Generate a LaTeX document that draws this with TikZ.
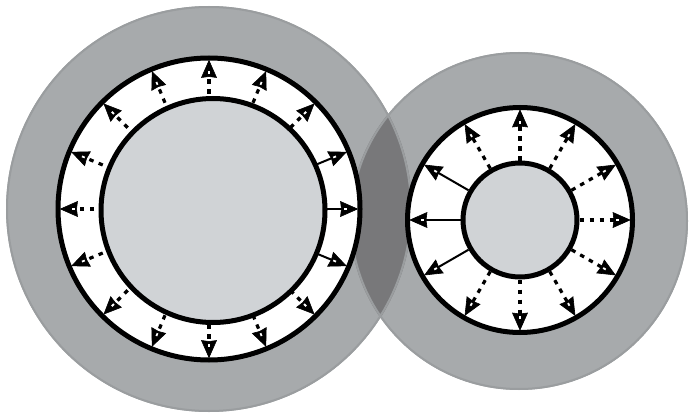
\documentclass[tikz,border=0pt]{standalone}
\usetikzlibrary{calc}
\definecolor{ringgray}{HTML}{A7AAAC}
\definecolor{ringedge}{HTML}{9A9D9F}
\definecolor{lensgray}{HTML}{78787A}
\definecolor{corefill}{HTML}{D0D3D6}
\tikzset{
  dotline/.style={line width=3.2pt, dash pattern=on 4.5pt off 5.5pt, black},
  solidline/.style={line width=2pt, black},
  headfill/.style={fill=black, draw=black, line width=0.6pt, line join=miter},
  notch/.style={fill=white},
  ringline/.style={line width=5pt, draw=black},
}
% arrow from radius #1 to radius #2 in current rotated scope, style #3
\newcommand{\radarrow}[3]{%
  \draw[#3] (#1,0) -- ({#2-15},0);
  \filldraw[headfill] ({#2-0.5},0) -- ({#2-17.5},7.5) -- ({#2-16.5},0) -- ({#2-17.5},-7.5) -- cycle;
  \fill[notch] ({#2-14.5},-0.9) rectangle ({#2-11.5},0.9);
}
\begin{document}
\begin{tikzpicture}[x=1pt,y=1pt]
\useasboundingbox (0,0) rectangle (691,416);
\coordinate (gL) at (209,207);
\coordinate (gR) at (519,195);
\coordinate (cL) at (209,207);
\coordinate (cLin) at (213,205.5);
\coordinate (cR) at (520,196);
% gray discs
\fill[ringgray] (gL) circle (203);
\fill[ringgray] (gR) circle (169);
\begin{scope}
  \clip (gL) circle (203);
  \fill[lensgray] (gR) circle (169);
\end{scope}
\draw[ringedge, line width=2pt] (gL) circle (202) (gR) circle (168);
% left ring
\filldraw[fill=white, ringline] (cL) circle (151);
\foreach \a in {45,67.5,...,315} {
  \begin{scope}[shift={(cL)}, rotate=\a]
    \radarrow{95}{149}{dotline}
  \end{scope}
}
\foreach \a in {-22.5,0,22.5} {
  \begin{scope}[shift={(cL)}, rotate=\a]
    \radarrow{95}{149}{solidline}
  \end{scope}
}
\filldraw[fill=corefill, ringline] (cLin) circle (112);
% right ring
\filldraw[fill=white, ringline] (cR) circle (112.5);
\foreach \a in {0,30,60,90,120,240,270,300,330} {
  \begin{scope}[shift={(cR)}, rotate=\a]
    \radarrow{59.5}{110.5}{dotline}
  \end{scope}
}
\foreach \a in {150,180,210} {
  \begin{scope}[shift={(cR)}, rotate=\a]
    \radarrow{59.5}{110.5}{solidline}
  \end{scope}
}
\filldraw[fill=corefill, ringline] (cR) circle (57);
\end{tikzpicture}
\end{document}
